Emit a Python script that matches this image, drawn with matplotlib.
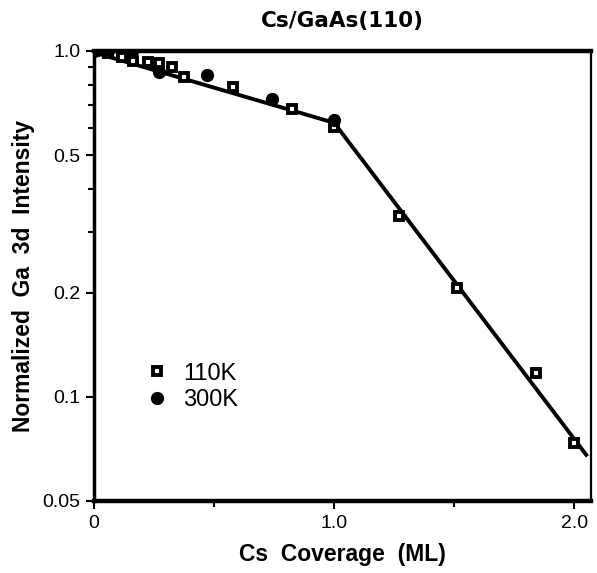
import matplotlib.pyplot as plt
from matplotlib.ticker import FixedLocator, NullFormatter

plt.rcParams['font.family'] = ['Liberation Sans', 'DejaVu Sans']

# 110K data (open squares)
cov_110 = [0.0, 0.06, 0.118, 0.164, 0.224, 0.272, 0.325, 0.376, 0.578, 0.823, 1.0, 1.27, 1.51, 1.84, 2.0]
int_110 = [1.0, 0.985, 0.959, 0.937, 0.927, 0.921, 0.90, 0.842, 0.788, 0.679, 0.603, 0.333, 0.207, 0.117, 0.0736]

# 300K data (filled circles)
cov_300 = [0.0, 0.06, 0.16, 0.27, 0.47, 0.74, 1.0]
int_300 = [1.0, 1.0, 1.0, 0.869, 0.852, 0.726, 0.63]

# fitted line (two segments)
fit_x = [0.0, 1.0, 2.05]
fit_y = [0.99, 0.62, 0.068]

y_ticks = [0.05, 0.1, 0.2, 0.5, 1.0]
y_labels = ['0.05', '0.1', '0.2', '0.5', '1.0']
x_ticks = [0, 1.0, 2.0]
x_labels = ['0', '1.0', '2.0']

fig = plt.figure(figsize=(5.97, 5.73), dpi=100)
ax = fig.add_axes([0.1575, 0.1257, 0.8325, 0.7853])

ax.plot(fit_x, fit_y, color='black', lw=2.8, zorder=2)
ax.plot(cov_110, int_110, 's', ms=6, mfc='white', mec='black', mew=2.8,
        label='110K', zorder=3)
ax.plot(cov_300, int_300, 'o', ms=8.5, color='black', label='300K', zorder=4)

ax.set_yscale('log')
ax.set_xlim(0, 2.07)
ax.set_ylim(0.05, 1.0)

ax.yaxis.set_major_locator(FixedLocator(y_ticks))
ax.set_yticklabels(y_labels)
ax.yaxis.set_minor_locator(FixedLocator([0.3, 0.4, 0.6, 0.7, 0.8, 0.9]))
ax.yaxis.set_minor_formatter(NullFormatter())
ax.set_xticks(x_ticks)
ax.set_xticklabels(x_labels)
ax.set_xticks([0.5, 1.5], minor=True)

ax.tick_params(axis='both', which='major', direction='out', length=6, width=1.5,
               labelsize=14, pad=4)
ax.tick_params(axis='both', which='minor', direction='out', length=4, width=1.5)

ax.spines['top'].set_linewidth(3.2)
ax.spines['bottom'].set_linewidth(3.2)
ax.spines['left'].set_linewidth(2.5)
ax.spines['right'].set_linewidth(1.6)

ax.set_xlabel('Cs  Coverage  (ML)', fontsize=16.5, fontweight='bold', labelpad=8)
ax.set_ylabel('Normalized  Ga  3d  Intensity', fontsize=16.5, fontweight='bold')
ax.yaxis.set_label_coords(-0.119, 0.5)
ax.set_title('Cs/GaAs(110)', fontsize=15.5, fontweight='bold', pad=17,
             family=['DejaVu Sans'])

ax.legend(loc='lower left', bbox_to_anchor=(0.055, 0.152), frameon=False,
          fontsize=17, handletextpad=0.5, labelspacing=0.2, handlelength=1.2)

fig.savefig('out.png', dpi=100)
